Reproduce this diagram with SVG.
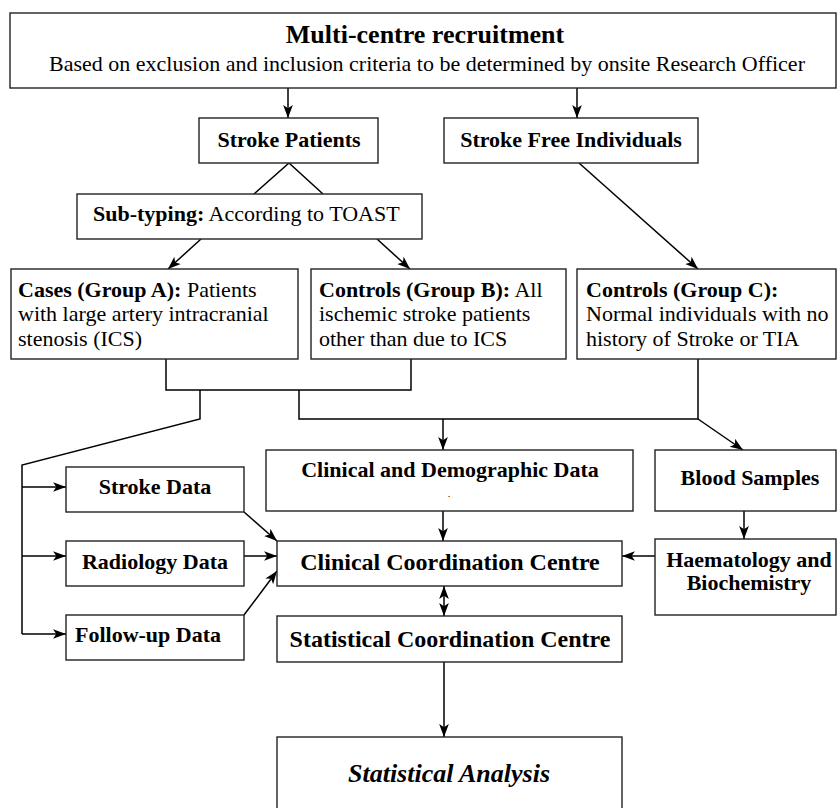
<svg xmlns="http://www.w3.org/2000/svg" width="837" height="808" viewBox="0 0 837 808">
<style>
rect{fill:#fff;stroke:#222;stroke-width:1.4}
text{font-family:"Liberation Serif","Times New Roman",serif;font-size:22px;fill:#000}
.b{font-weight:bold}
.c{text-anchor:middle}
.l{fill:none;stroke:#000;stroke-width:1.5}
.a{marker-end:url(#ah)}
</style>
<defs>
<marker id="ah" markerUnits="userSpaceOnUse" markerWidth="14" markerHeight="12" viewBox="0 0 13 10" refX="12" refY="5" orient="auto-start-reverse">
<path d="M0,0.5 L12,5 L0,9.5 L3,5 z" fill="#000"/>
</marker>
</defs>
<g id="connectors">
<path class="l a" d="M288,88 V118"/>
<path class="l a" d="M577,88 V118"/>
<path class="l" d="M254,194 L289,163 L323,194"/>
<path class="l a" d="M201,239 L168,269"/>
<path class="l a" d="M377,239 L410,269"/>
<path class="l a" d="M579,163 L698,269"/>
<path class="l" d="M166,359 V390 H411 V359"/>
<path class="l" d="M200,390 V419 L22,465 V634"/>
<path class="l a" d="M22,487 H66"/>
<path class="l a" d="M22,556 H66"/>
<path class="l a" d="M22,634 H66"/>
<path class="l" d="M299,390 V419 H698 V359"/>
<path class="l a" d="M443,419 V450"/>
<path class="l a" d="M698,419 L743,450"/>
<path class="l a" d="M443,511 V541"/>
<path class="l a" d="M244,512 L277,541"/>
<path class="l a" d="M244,556 H277"/>
<path class="l a" d="M244,615 L277,571"/>
<path class="l a" d="M655,556 H622"/>
<path class="l a" d="M744,511 V539"/>
<path class="l a" d="M444,586 V616" marker-start="url(#ah)"/>
<path class="l a" d="M444,662 V737"/>
</g>
<g id="recruitment">
<rect x="10" y="13" width="826" height="75"/>
<text class="b c" x="425" y="43" style="font-size:26px">Multi-centre recruitment</text>
<text class="c" x="427" y="71">Based on exclusion and inclusion criteria to be determined by onsite Research Officer</text>
</g>
<g id="stroke-patients">
<rect x="199" y="118" width="179" height="45"/>
<text class="b c" x="289" y="147">Stroke Patients</text>
</g>
<g id="stroke-free">
<rect x="444" y="118" width="254" height="45"/>
<text class="b c" x="571" y="147">Stroke Free Individuals</text>
</g>
<g id="subtyping">
<rect x="77" y="194" width="345" height="45"/>
<text x="93" y="221"><tspan class="b">Sub-typing:</tspan> According to TOAST</text>
</g>
<g id="group-a">
<rect x="11" y="269" width="287" height="90"/>
<text x="18" y="297"><tspan class="b">Cases (Group A):</tspan> Patients</text>
<text x="18" y="321">with large artery intracranial</text>
<text x="18" y="346">stenosis (ICS)</text>
</g>
<g id="group-b">
<rect x="311" y="269" width="255" height="90"/>
<text x="319" y="297"><tspan class="b">Controls (Group B):</tspan> All</text>
<text x="319" y="321">ischemic stroke patients</text>
<text x="319" y="346">other than due to ICS</text>
</g>
<g id="group-c">
<rect x="577" y="269" width="259" height="90"/>
<text class="b" x="586" y="297">Controls (Group C):</text>
<text x="586" y="321">Normal individuals with no</text>
<text x="586" y="346">history of Stroke or TIA</text>
</g>
<g id="stroke-data">
<rect x="66" y="467" width="178" height="45"/>
<text class="b c" x="155" y="494">Stroke Data</text>
</g>
<g id="radiology-data">
<rect x="66" y="541" width="178" height="45"/>
<text class="b c" x="155" y="569">Radiology Data</text>
</g>
<g id="followup-data">
<rect x="66" y="615" width="178" height="45"/>
<text class="b c" x="148" y="642">Follow-up Data</text>
</g>
<g id="clinical-demographic">
<rect x="266" y="450" width="367" height="61"/>
<text class="b c" x="450" y="477">Clinical and Demographic Data</text>
<text class="c" x="449" y="497" style="font-size:10px">.</text>
</g>
<g id="blood-samples">
<rect x="655" y="450" width="181" height="61"/>
<text class="b c" x="750" y="485">Blood Samples</text>
</g>
<g id="clinical-coordination">
<rect x="277" y="541" width="345" height="45"/>
<text class="b c" x="450" y="570" style="font-size:24px">Clinical Coordination Centre</text>
</g>
<g id="haematology">
<rect x="655" y="539" width="181" height="76"/>
<text class="b c" x="749" y="567">Haematology and</text>
<text class="b c" x="749" y="590">Biochemistry</text>
</g>
<g id="statistical-coordination">
<rect x="277" y="616" width="345" height="46"/>
<text class="b c" x="450" y="647" style="font-size:24px">Statistical Coordination Centre</text>
</g>
<g id="statistical-analysis">
<rect x="277" y="737" width="345" height="80"/>
<text class="b c" x="449" y="782" style="font-size:26px;font-style:italic">Statistical Analysis</text>
</g>
</svg>
